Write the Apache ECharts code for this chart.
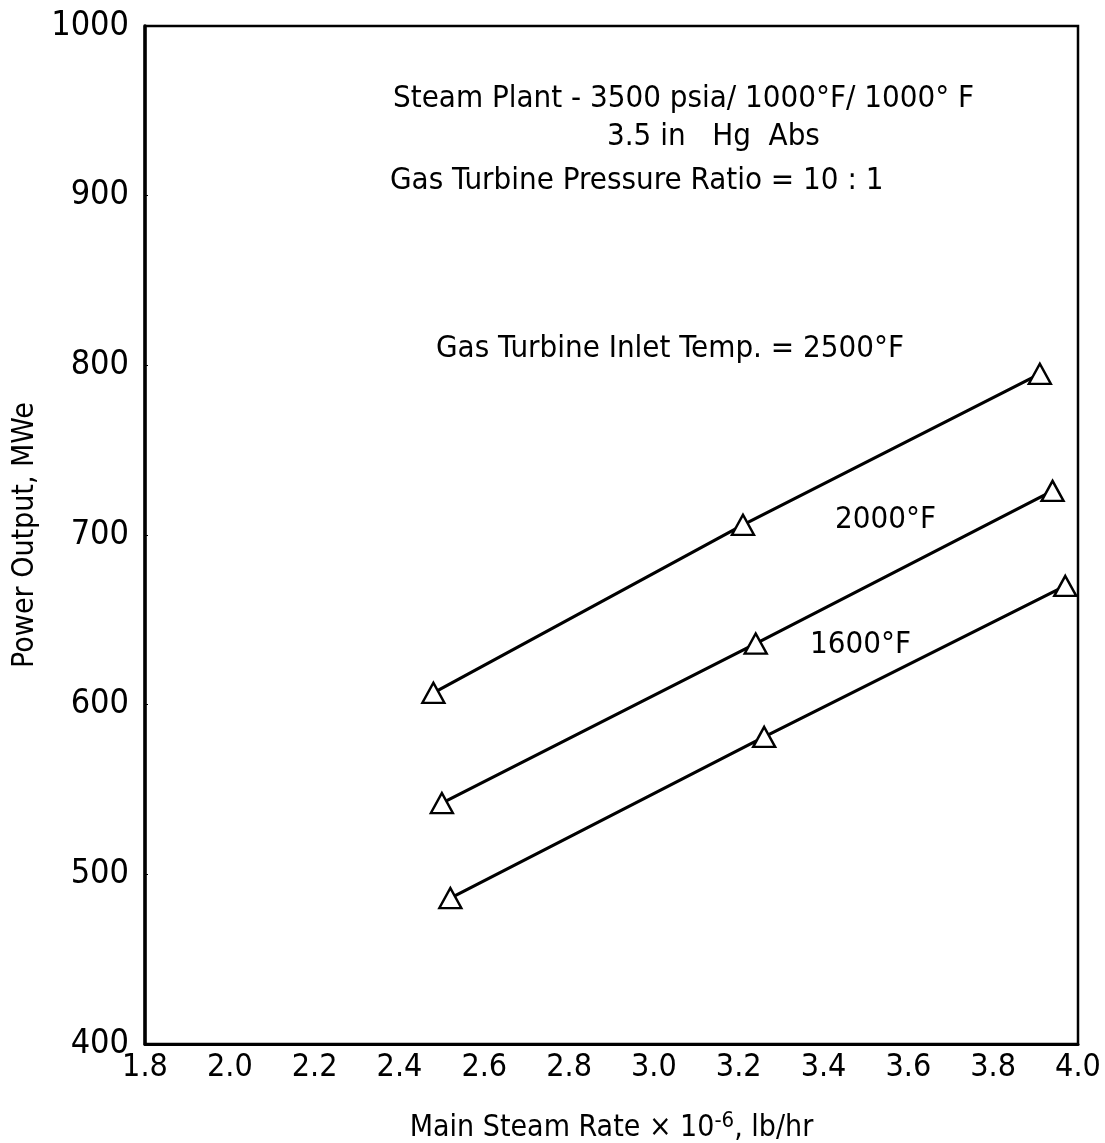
<!DOCTYPE html>
<html>
<head>
<meta charset="utf-8">
<script src="https://cdn.jsdelivr.net/npm/echarts@6/dist/echarts.min.js"></script>
<style>
html,body{margin:0;padding:0;background:#fff;}
#chart{width:1105px;height:1143px;}
</style>
</head>
<body>
<div id="chart"></div>
<script>
// Data
const xTicks = [1.8, 2.0, 2.2, 2.4, 2.6, 2.8, 3.0, 3.2, 3.4, 3.6, 3.8, 4.0];
const yTicks = [400, 500, 600, 700, 800, 900, 1000];
const steamRate2500 = [2.48, 3.21, 3.91];
const power2500 = [607, 706, 795];
const steamRate2000 = [2.50, 3.24, 3.94];
const power2000 = [542, 636, 726];
const steamRate1600 = [2.52, 3.26, 3.97];
const power1600 = [486, 581, 670];
const seriesNames = ['2500°F', '2000°F', '1600°F'];

const FONT = '"Liberation Sans Narrow", "DejaVu Sans Condensed", "Noto Sans", sans-serif';

function pairs(xs, ys) { return xs.map((x, i) => [x, ys[i]]); }

function lineSeries(name, xs, ys) {
  return {
    name: name,
    type: 'line',
    data: pairs(xs, ys),
    symbol: 'triangle',
    symbolSize: [22, 20],
    showSymbol: true,
    lineStyle: { color: '#000', width: 3.2 },
    itemStyle: { color: '#fff', borderColor: '#000', borderWidth: 2.4 },
    z: 3,
    animation: false
  };
}

const chart = echarts.init(document.getElementById('chart'));
chart.setOption({
  backgroundColor: '#fff',
  animation: false,
  grid: {
    left: 145, top: 26, right: 27, bottom: 99,
    containLabel: false, outerBoundsMode: 'none',
    show: true, borderColor: '#000', borderWidth: 2.5, backgroundColor: 'transparent'
  },
  xAxis: {
    type: 'value',
    min: xTicks[0], max: xTicks[xTicks.length - 1], interval: 0.2,
    name: 'Main Steam Rate × 10{sup|-6}, lb/hr',
    nameLocation: 'middle', nameGap: 66,
    nameTextStyle: {
      fontFamily: FONT, fontSize: 30, color: '#000',
      rich: { sup: { fontFamily: FONT, fontSize: 22, color: '#000', verticalAlign: 'top', padding: [0, 0, 14, 0] } }
    },
    axisLine: { show: true, onZero: false, lineStyle: { color: '#000', width: 3 } },
    axisTick: { show: false },
    splitLine: { show: false },
    axisLabel: {
      fontFamily: FONT, fontSize: 32, color: '#000', margin: 8,
      formatter: v => v.toFixed(1)
    }
  },
  yAxis: {
    type: 'value',
    min: yTicks[0], max: yTicks[yTicks.length - 1], interval: 100,
    name: 'Power Output, MWe',
    nameLocation: 'middle', nameGap: 94, nameRotate: 90,
    nameTextStyle: { fontFamily: FONT, fontSize: 30, color: '#000' },
    axisLine: { show: true, lineStyle: { color: '#000', width: 3.5 } },
    axisTick: { show: true, inside: true, length: 3, lineStyle: { color: '#000', width: 1 } },
    splitLine: { show: false },
    axisLabel: { fontFamily: FONT, fontSize: 34, color: '#000', margin: 16, formatter: v => String(v) }
  },
  series: [
    lineSeries(seriesNames[0], steamRate2500, power2500),
    lineSeries(seriesNames[1], steamRate2000, power2000),
    lineSeries(seriesNames[2], steamRate1600, power1600)
  ],
  graphic: [
    { type: 'text', left: 393, top: 83, style: { text: 'Steam Plant - 3500 psia/ 1000°F/ 1000° F', font: '31px ' + FONT, fill: '#000' } },
    { type: 'text', left: 607, top: 121, style: { text: '3.5 in   Hg  Abs', font: '31px ' + FONT, fill: '#000' } },
    { type: 'text', left: 390, top: 165, style: { text: 'Gas Turbine Pressure Ratio = 10 : 1', font: '31px ' + FONT, fill: '#000' } },
    { type: 'text', left: 436, top: 333, style: { text: 'Gas Turbine Inlet Temp. = 2500°F', font: '31px ' + FONT, fill: '#000' } },
    { type: 'text', left: 835, top: 504, style: { text: '2000°F', font: '31px ' + FONT, fill: '#000' } },
    { type: 'text', left: 810, top: 629, style: { text: '1600°F', font: '31px ' + FONT, fill: '#000' } }
  ]
});
</script>
</body>
</html>
